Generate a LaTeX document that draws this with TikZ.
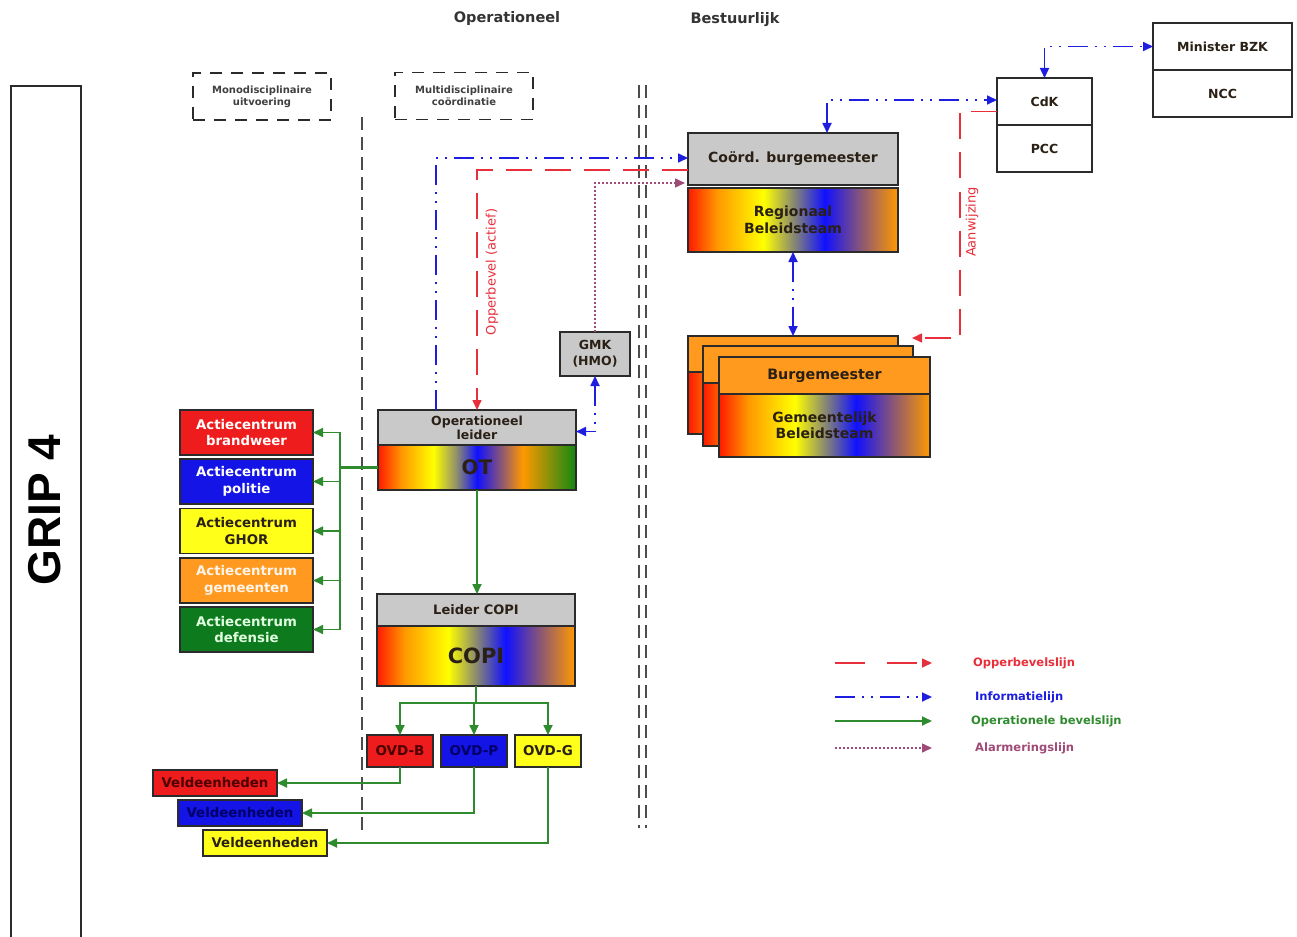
\documentclass[tikz,border=0pt]{standalone}
\usepackage{fontspec}
\setmainfont{DejaVu Sans}
\newfontfamily\gripfont{Liberation Sans}
\usetikzlibrary{arrows.meta}
\newcommand{\fsz}[2]{\fontsize{#1}{#2}\selectfont}
\definecolor{boxline}{HTML}{2B2B2B}
\definecolor{boxgray}{HTML}{C9C9C9}
\definecolor{orangeF}{HTML}{FF9A1E}
\definecolor{acRed}{HTML}{EE1C1C}
\definecolor{acBlue}{HTML}{1414E6}
\definecolor{acYellow}{HTML}{FFFF1A}
\definecolor{acOrange}{HTML}{FF991F}
\definecolor{acGreen}{HTML}{0E7A1E}
\definecolor{cmdred}{HTML}{E8303C}
\definecolor{infoblue}{HTML}{1E1EE0}
\definecolor{opgreen}{HTML}{2E8B2E}
\definecolor{alarmpurple}{HTML}{A04A78}
\definecolor{txtdark}{HTML}{2A2015}
\definecolor{gRed}{HTML}{FF1A00}
\definecolor{gOrange}{HTML}{FF9900}
\definecolor{gYellow}{HTML}{FFFF00}
\definecolor{gGray}{HTML}{8A8A70}
\definecolor{gBlue}{HTML}{1010FF}
\definecolor{gPurple}{HTML}{885577}
\definecolor{gGreen}{HTML}{118811}
\pgfdeclarehorizontalshading{grRB}{100bp}{color(0bp)=(gRed); color(25bp)=(gRed); color(32bp)=(gOrange); color(43bp)=(gYellow); color(50bp)=(gGray); color(57.5bp)=(gBlue); color(66bp)=(gPurple); color(75bp)=(gOrange); color(100bp)=(gOrange)}
\pgfdeclarehorizontalshading{grOT}{100bp}{color(0bp)=(gRed); color(25bp)=(gRed); color(31bp)=(gOrange); color(39bp)=(gYellow); color(45bp)=(gGray); color(50bp)=(gBlue); color(56bp)=(gPurple); color(61.5bp)=(gOrange); color(75bp)=(gGreen); color(100bp)=(gGreen)}
\begin{document}
\begin{tikzpicture}[x=1pt,y=-1pt,
  >={Triangle[length=10pt,width=9pt]},
  box/.style={draw=boxline, line width=1.4pt, inner sep=0pt, outer sep=0pt, align=center},
  graybox/.style={box, fill=boxgray, text=txtdark},
  whitebox/.style={box, fill=white, minimum width=95pt, minimum height=47pt, font=\bfseries\fsz{12.5}{14}, text=txtdark},
  gradbox/.style={box, shade, shading=#1, text=txtdark},
  orbox/.style={box, fill=orangeF, text=txtdark},
  acbox/.style={box, minimum width=133pt, minimum height=45pt, font=\bfseries\fsz{13.3}{16.5}},
  ovdbox/.style={box, minimum width=66pt, minimum height=32pt, font=\bfseries\fsz{13.5}{15}},
  veldbox/.style={box, minimum width=124pt, minimum height=26pt, font=\bfseries\fsz{13.3}{15}},
  dbox/.style={draw=boxline, line width=1.6pt, dash pattern=on 12pt off 9pt, minimum width=138pt, minimum height=47pt, align=center, inner sep=0pt, font=\bfseries\fsz{10}{12}, text=black!75},
  title/.style={font=\bfseries\fsz{14.5}{16}, text=black!80},
  cmd/.style={draw=cmdred, line width=1.5pt, dash pattern=on 26pt off 13pt},
  info/.style={draw=infoblue, line width=1.7pt, dash pattern=on 20pt off 7pt on 2pt off 7pt on 2pt off 7pt},
  op/.style={draw=opgreen, line width=1.7pt},
  alarm/.style={draw=alarmpurple, line width=1.5pt, dash pattern=on 2pt off 2pt},
  sep/.style={draw=black!70, line width=2pt, dash pattern=on 13pt off 7pt},
  lbl/.style={text=cmdred, font=\fsz{13}{15}, rotate=90, inner sep=0pt},
  legend/.style={anchor=west, font=\bfseries\fsz{11.5}{13}, inner sep=0pt}
]
\useasboundingbox (0,0) rectangle (1297,936);
\fill[white] (0,0) rectangle (1297,936);

% GRIP frame
\node[draw=boxline, line width=1.6pt, minimum width=70pt, minimum height=870pt, anchor=north west, inner sep=0pt] (grip) at (10,85) {};
\node[rotate=90, font=\gripfont\bfseries\fsz{46}{50}, inner sep=0pt] (griptext) at (45,510) {GRIP 4};

% titles
\node[title] (t1) at (507,19) {Operationeel};
\node[title] (t2) at (735,20) {Bestuurlijk};
\node[dbox] (mono) at (262,96.5) {Monodisciplinaire\\uitvoering};
\node[dbox] (multi) at (464,96) {Multidisciplinaire\\coördinatie};

% separators
\coordinate (s1t) at (362,117); \coordinate (s1b) at (362,835);
\coordinate (s2t) at (639,85);  \coordinate (s2b) at (639,828);
\coordinate (s3t) at (646,85);  \coordinate (s3b) at (646,828);
\draw[sep, line width=1.6pt] (s1t) -- (s1b);
\draw[sep] (s2t) -- (s2b);
\draw[sep] (s3t) -- (s3b);

% bestuurlijk
\node[graybox, minimum width=210pt, minimum height=52pt, font=\bfseries\fsz{14}{16}] (coord) at (793,159) {Coörd. burgemeester};
\node[gradbox=grRB, minimum width=210pt, minimum height=64pt, font=\bfseries\fsz{14}{16.5}] (rbt) at (793,220) {Regionaal\\Beleidsteam};
\node[whitebox] (cdk) at (1044.5,101.5) {CdK};
\node[whitebox] (pcc) at (1044.5,148.5) {PCC};
\node[whitebox, minimum width=139pt] (min) at (1222.5,46.5) {Minister BZK};
\node[whitebox, minimum width=139pt] (ncc) at (1222.5,93.5) {NCC};

% stacked burgemeester
\node[orbox, minimum width=210pt, minimum height=36pt] (b1t) at (793,354) {};
\node[gradbox=grRB, minimum width=210pt, minimum height=62pt] (b1b) at (793,403) {};
\node[orbox, minimum width=210pt, minimum height=37pt] (b2t) at (808,364.5) {};
\node[gradbox=grRB, minimum width=210pt, minimum height=63pt] (b2b) at (808,414.5) {};
\node[orbox, minimum width=211pt, minimum height=37pt, font=\bfseries\fsz{14.3}{16}] (b3t) at (824.5,375.5) {Burgemeester};
\node[gradbox=grRB, minimum width=211pt, minimum height=63pt, font=\bfseries\fsz{14}{16.5}] (b3b) at (824.5,425.5) {Gemeentelijk\\Beleidsteam};

% operationeel
\node[graybox, minimum width=70pt, minimum height=44pt, font=\bfseries\fsz{12.5}{16}] (gmk) at (595,354) {GMK\\(HMO)};
\node[graybox, minimum width=198pt, minimum height=35pt, font=\bfseries\fsz{12.5}{14}] (opl) at (477,427.5) {Operationeel\\leider};
\node[gradbox=grOT, minimum width=198pt, minimum height=45pt, font=\bfseries\fsz{20}{22}] (ot) at (477,467.5) {OT};
\node[graybox, minimum width=198pt, minimum height=32pt, font=\bfseries\fsz{13}{14}] (lcopi) at (476,610) {Leider COPI};
\node[gradbox=grRB, minimum width=198pt, minimum height=60pt, font=\bfseries\fsz{21}{23}] (copi) at (476,656) {COPI};

% actiecentra
\node[acbox, fill=acRed, text=white] (acb) at (246.5,432.5) {Actiecentrum\\brandweer};
\node[acbox, fill=acBlue, text=white] (acp) at (246.5,481.5) {Actiecentrum\\politie};
\node[acbox, fill=acYellow, text=txtdark] (acg) at (246.5,531) {Actiecentrum\\GHOR};
\node[acbox, fill=acOrange, text=white!92!orange] (acm) at (246.5,580.5) {Actiecentrum\\gemeenten};
\node[acbox, fill=acGreen, text=white!88!green] (acd) at (246.5,629.5) {Actiecentrum\\defensie};

% OVD
\node[ovdbox, fill=acRed, text=black!70!red] (ovdb) at (400,751) {OVD-B};
\node[ovdbox, fill=acBlue, text=black!60!blue] (ovdp) at (474,751) {OVD-P};
\node[ovdbox, fill=acYellow, text=txtdark] (ovdg) at (548,751) {OVD-G};

% veldeenheden
\node[veldbox, fill=acRed, text=black!70!red] (veldr) at (215,783) {Veldeenheden};
\node[veldbox, fill=acBlue, text=black!60!blue] (veldb) at (240,813) {Veldeenheden};
\node[veldbox, fill=acYellow, text=txtdark] (veldy) at (265,843) {Veldeenheden};

% operational command lines
\coordinate (bus) at (340,467.5);
\draw[op, line width=2.6pt] (ot.west) -- (bus);
\foreach \n in {acb,acp,acg,acm,acd} \draw[op,->] (bus) |- (\n.east);
\draw[op,->] (ot.south) -- (lcopi.north -| ot.south);
\coordinate (split) at (476,703);
\draw[op] (copi.south) -- (split);
\draw[op,->] (split) -| (ovdb.north);
\draw[op,->] (split) -| (ovdp.north);
\draw[op,->] (split) -| (ovdg.north);
\draw[op,->] (ovdb.south) |- (veldr.east);
\draw[op,->] (ovdp.south) |- (veldb.east);
\draw[op,->] (ovdg.south) |- (veldy.east);

% info / command / alarm lines
\draw[info,->] ([xshift=-41pt]opl.north) |- ([yshift=1pt]coord.west);
\draw[cmd,->] ([yshift=-11pt]coord.west) -| (opl.north);
\node[lbl] (opblbl) at (492,272) {Opperbevel (actief)};
\draw[alarm,->] (gmk.north) |- ([xshift=-3pt,yshift=-24pt]coord.west);
\draw[info,<->] (gmk.south) |- ([yshift=-4pt]opl.east);
\draw[info,<->] ([xshift=34pt]coord.north) |- ([yshift=1.5pt]cdk.west);
\draw[info,<->] (cdk.north) |- (min.west);
\draw[cmd,->] ([yshift=-10pt]cdk.west) -- ++(-37,0) |- ([xshift=14pt,yshift=-2pt]b1t.north east);
\node[lbl] (awlbl) at (972,222) {Aanwijzing};
\draw[info,<->] (rbt.south) -- (b1t.north);

% legend
\coordinate (lg1a) at (835,663); \coordinate (lg1b) at (932,663);
\coordinate (lg2a) at (835,697); \coordinate (lg2b) at (932,697);
\coordinate (lg3a) at (835,721); \coordinate (lg3b) at (932,721);
\coordinate (lg4a) at (835,748); \coordinate (lg4b) at (932,748);
\draw[cmd, dash pattern=on 30pt off 22pt, ->] (lg1a) -- (lg1b);
\draw[info, ->] (lg2a) -- (lg2b);
\draw[op, ->] (lg3a) -- (lg3b);
\draw[alarm, ->] (lg4a) -- (lg4b);
\node[legend, text=cmdred] (lg1t) at (973,663) {Opperbevelslijn};
\node[legend, text=infoblue] (lg2t) at (975,697) {Informatielijn};
\node[legend, text=opgreen] (lg3t) at (971,721) {Operationele bevelslijn};
\node[legend, text=alarmpurple] (lg4t) at (975,748) {Alarmeringslijn};
\end{tikzpicture}
\end{document}
